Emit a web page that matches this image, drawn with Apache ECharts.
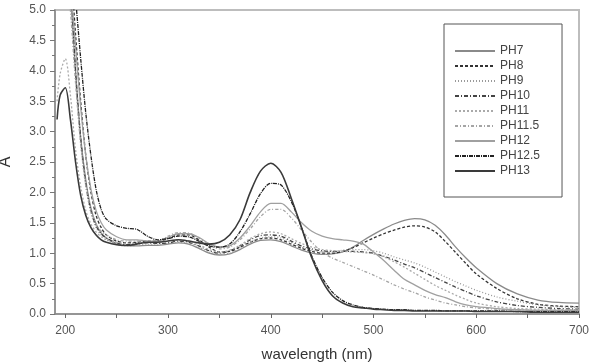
<!DOCTYPE html>
<html lang="en">

<head>
    <meta charset="UTF-8">
    <meta name="viewport" content="width=device-width, initial-scale=1.0">
    <script src="https://cdn.jsdelivr.net/npm/echarts@6/dist/echarts.min.js"></script>
    <style>
        * {
            margin: 0;
            padding: 0;
        }

        body {
            background-color: #fff;
        }

        #chart {
            width: 589px;
            height: 362px;
        }
    </style>
    <title>PH spectra</title>
</head>

<body>
    <div id="chart"></div>
</body>
<script>
    // wavelength (nm)
    var wavelengths = [192, 195, 200, 205, 210, 215, 220, 225, 230, 235, 240,
        250, 260, 270, 280, 290, 300, 310, 320, 330, 340, 350,
        360, 370, 380, 390, 400, 410, 420, 430, 440, 450, 460,
        470, 480, 490, 500, 510, 520, 530, 540, 550, 560, 570,
        580, 590, 600, 620, 640, 660, 680, 700];

    var ph7 = [5.3, 5.9, 6.2, 5.3, 4.0, 2.9, 2.2, 1.74, 1.48, 1.33, 1.25,
        1.15, 1.12, 1.12, 1.13, 1.13, 1.15, 1.17, 1.15, 1.08, 1.0, 0.97,
        0.99, 1.06, 1.15, 1.21, 1.22, 1.19, 1.12, 1.05, 1.0, 0.98, 0.99,
        1.02, 1.1, 1.21, 1.31, 1.4, 1.48, 1.54, 1.57, 1.55, 1.46, 1.3,
        1.1, 0.92, 0.76, 0.5, 0.33, 0.23, 0.19, 0.18];
    var ph8 = [5.6, 6.2, 6.5, 5.8, 4.6, 3.5, 2.6, 2.0, 1.62, 1.42, 1.3,
        1.2, 1.17, 1.18, 1.2, 1.2, 1.24, 1.3, 1.3, 1.22, 1.1, 1.02,
        1.03, 1.1, 1.18, 1.24, 1.25, 1.22, 1.15, 1.08, 1.03, 1.0, 1.0,
        1.03, 1.09, 1.17, 1.25, 1.32, 1.38, 1.43, 1.45, 1.43, 1.35, 1.19,
        1.01, 0.83, 0.66, 0.42, 0.25, 0.16, 0.13, 0.12];
    var ph9 = [5.4, 6.0, 6.2, 5.2, 3.9, 2.8, 2.1, 1.66, 1.42, 1.3, 1.22,
        1.15, 1.12, 1.13, 1.15, 1.15, 1.16, 1.18, 1.16, 1.1, 1.02, 0.98,
        1.0, 1.08, 1.18, 1.25, 1.27, 1.25, 1.18, 1.1, 1.05, 1.02, 1.02,
        1.05, 1.06, 1.06, 1.04, 1.0, 0.94, 0.89, 0.84, 0.77, 0.69, 0.61,
        0.53, 0.46, 0.39, 0.28, 0.21, 0.15, 0.12, 0.11];
    var ph10 = [5.5, 6.0, 6.4, 5.5, 4.0, 2.9, 2.15, 1.7, 1.45, 1.32, 1.25,
        1.17, 1.14, 1.16, 1.17, 1.16, 1.17, 1.2, 1.18, 1.12, 1.04, 1.0,
        1.04, 1.12, 1.22, 1.29, 1.3, 1.28, 1.2, 1.12, 1.07, 1.04, 1.03,
        1.03, 1.03, 1.02, 1.0, 0.95, 0.89, 0.82, 0.76, 0.68, 0.6, 0.52,
        0.44, 0.37, 0.3, 0.2, 0.14, 0.11, 0.09, 0.08];
    var ph11 = [3.5, 3.95, 4.2, 3.6, 2.7, 2.1, 1.7, 1.48, 1.35, 1.27, 1.22,
        1.18, 1.16, 1.17, 1.18, 1.18, 1.2, 1.22, 1.2, 1.14, 1.06, 1.02,
        1.05, 1.13, 1.24, 1.32, 1.35, 1.32, 1.24, 1.16, 1.1, 1.06, 1.04,
        1.03, 1.02, 1.01, 0.99, 0.94, 0.86, 0.77, 0.67, 0.57, 0.47, 0.39,
        0.31, 0.24, 0.18, 0.12, 0.09, 0.08, 0.07, 0.07];
    var ph11_5 = [5.3, 5.8, 6.0, 5.0, 3.8, 2.8, 2.1, 1.7, 1.48, 1.36, 1.3,
        1.22, 1.2, 1.2, 1.2, 1.2, 1.28, 1.34, 1.33, 1.25, 1.14, 1.07,
        1.1, 1.22, 1.4, 1.6, 1.72, 1.72, 1.58, 1.38, 1.18, 1.02, 0.92,
        0.85, 0.78, 0.71, 0.64, 0.56, 0.48, 0.41, 0.35, 0.28, 0.23, 0.18,
        0.15, 0.12, 0.1, 0.08, 0.07, 0.06, 0.06, 0.06];
    var ph12 = [5.4, 6.0, 6.2, 5.4, 4.4, 3.4, 2.6, 2.05, 1.7, 1.5, 1.38,
        1.27, 1.22, 1.22, 1.2, 1.2, 1.26, 1.32, 1.32, 1.26, 1.16, 1.1,
        1.12, 1.25, 1.45, 1.68, 1.82, 1.82, 1.68, 1.5, 1.36, 1.28, 1.24,
        1.22, 1.2, 1.15, 1.02, 0.88, 0.72, 0.57, 0.48, 0.39, 0.32, 0.27,
        0.2, 0.15, 0.12, 0.09, 0.07, 0.06, 0.06, 0.06];
    var ph12_5 = [5.5, 6.0, 6.5, 6.2, 5.2, 4.2, 3.3, 2.6, 2.05, 1.72, 1.56,
        1.45, 1.41, 1.39, 1.28, 1.22, 1.24, 1.28, 1.27, 1.2, 1.12, 1.1,
        1.15, 1.35, 1.65, 1.98, 2.15, 2.12, 1.85, 1.42, 0.95, 0.6, 0.36,
        0.22, 0.15, 0.11, 0.09, 0.08, 0.07, 0.07, 0.06, 0.06, 0.06, 0.05,
        0.05, 0.05, 0.05, 0.05, 0.04, 0.04, 0.04, 0.04];
    var ph13 = [3.2, 3.6, 3.72, 3.2, 2.5, 1.95, 1.62, 1.42, 1.3, 1.22, 1.18,
        1.14, 1.13, 1.15, 1.18, 1.18, 1.2, 1.22, 1.2, 1.17, 1.15, 1.18,
        1.3, 1.55, 2.0, 2.35, 2.48, 2.33, 1.9, 1.42, 0.92, 0.55, 0.3,
        0.18, 0.12, 0.1, 0.08, 0.07, 0.06, 0.06, 0.05, 0.05, 0.05, 0.05,
        0.05, 0.05, 0.04, 0.04, 0.04, 0.03, 0.03, 0.03];

    var names = ['PH7', 'PH8', 'PH9', 'PH10', 'PH11', 'PH11.5', 'PH12', 'PH12.5', 'PH13'];
    var values = [ph7, ph8, ph9, ph10, ph11, ph11_5, ph12, ph12_5, ph13];

    var xLabels = [200, 300, 400, 500, 600, 700];
    var xTicks = [200, 250, 300, 350, 400, 450, 500, 550, 600, 650, 700];

    // line looks, same order as names
    var colors = ['#8a8a8a', '#333', '#9a9a9a', '#444', '#aaa', '#a5a5a5', '#a0a0a0', '#222', '#3a3a3a'];
    var dashes = ['solid', [3, 2], [1, 2], [4, 2, 1, 2], [2, 2], [3, 2, 1, 2], 'solid', [4, 1, 1, 1], 'solid'];

    var font = 'Liberation Sans, Arial, sans-serif';

    var series = [];
    for (var i = 0; i < names.length; i++) {
        var pts = [];
        for (var j = 0; j < wavelengths.length; j++) {
            pts.push([wavelengths[j], values[i][j]]);
        }
        series.push({
            name: names[i],
            type: 'line',
            data: pts,
            symbol: 'none',
            smooth: 0.3,
            clip: true,
            lineStyle: {
                color: colors[i],
                width: i == 8 ? 1.6 : 1.3,
                type: dashes[i]
            },
            itemStyle: { color: colors[i] }
        });
    }

    var myChart = echarts.init(document.getElementById('chart'));
    var option = {
        animation: false,
        grid: {
            left: 55,
            right: 10,
            top: 10,
            bottom: 48,
            outerBoundsMode: 'none',
            show: true,
            borderColor: '#bdbdbd',
            borderWidth: 2
        },
        legend: {
            orient: 'vertical',
            left: 444,
            top: 24,
            data: names,
            itemWidth: 40,
            itemHeight: 14,
            itemGap: 3,
            padding: [21, 22, 20, 10],
            borderColor: '#555',
            borderWidth: 1,
            itemStyle: { opacity: 0 },
            textStyle: { fontFamily: font, fontSize: 12, color: '#444' }
        },
        xAxis: {
            type: 'value',
            min: 190,
            max: 700,
            name: 'wavelength (nm)',
            nameLocation: 'middle',
            nameGap: 33,
            nameTextStyle: { fontFamily: font, fontSize: 15, color: '#333' },
            splitLine: { show: false },
            axisLine: { lineStyle: { color: '#888', width: 1.5 } },
            axisTick: { customValues: xTicks, length: 4, lineStyle: { color: '#666' } },
            axisLabel: { customValues: xLabels, margin: 11, fontFamily: font, fontSize: 12, color: '#555' }
        },
        yAxis: {
            type: 'value',
            min: 0,
            max: 5,
            interval: 0.5,
            name: 'A',
            nameLocation: 'middle',
            nameGap: 41,
            nameRotate: 90,
            nameTextStyle: { fontFamily: font, fontSize: 16, color: '#333' },
            splitLine: { show: false },
            axisLine: { show: true, lineStyle: { color: '#888', width: 1.5 } },
            axisTick: { show: true, length: 5, lineStyle: { color: '#777' } },
            minorTick: { show: true, splitNumber: 2, length: 3, lineStyle: { color: '#777' } },
            axisLabel: {
                margin: 9,
                fontFamily: font,
                fontSize: 12,
                color: '#555',
                formatter: function (v) { return v.toFixed(1); }
            }
        },
        series: series
    };
    myChart.setOption(option);
</script>

</html>
